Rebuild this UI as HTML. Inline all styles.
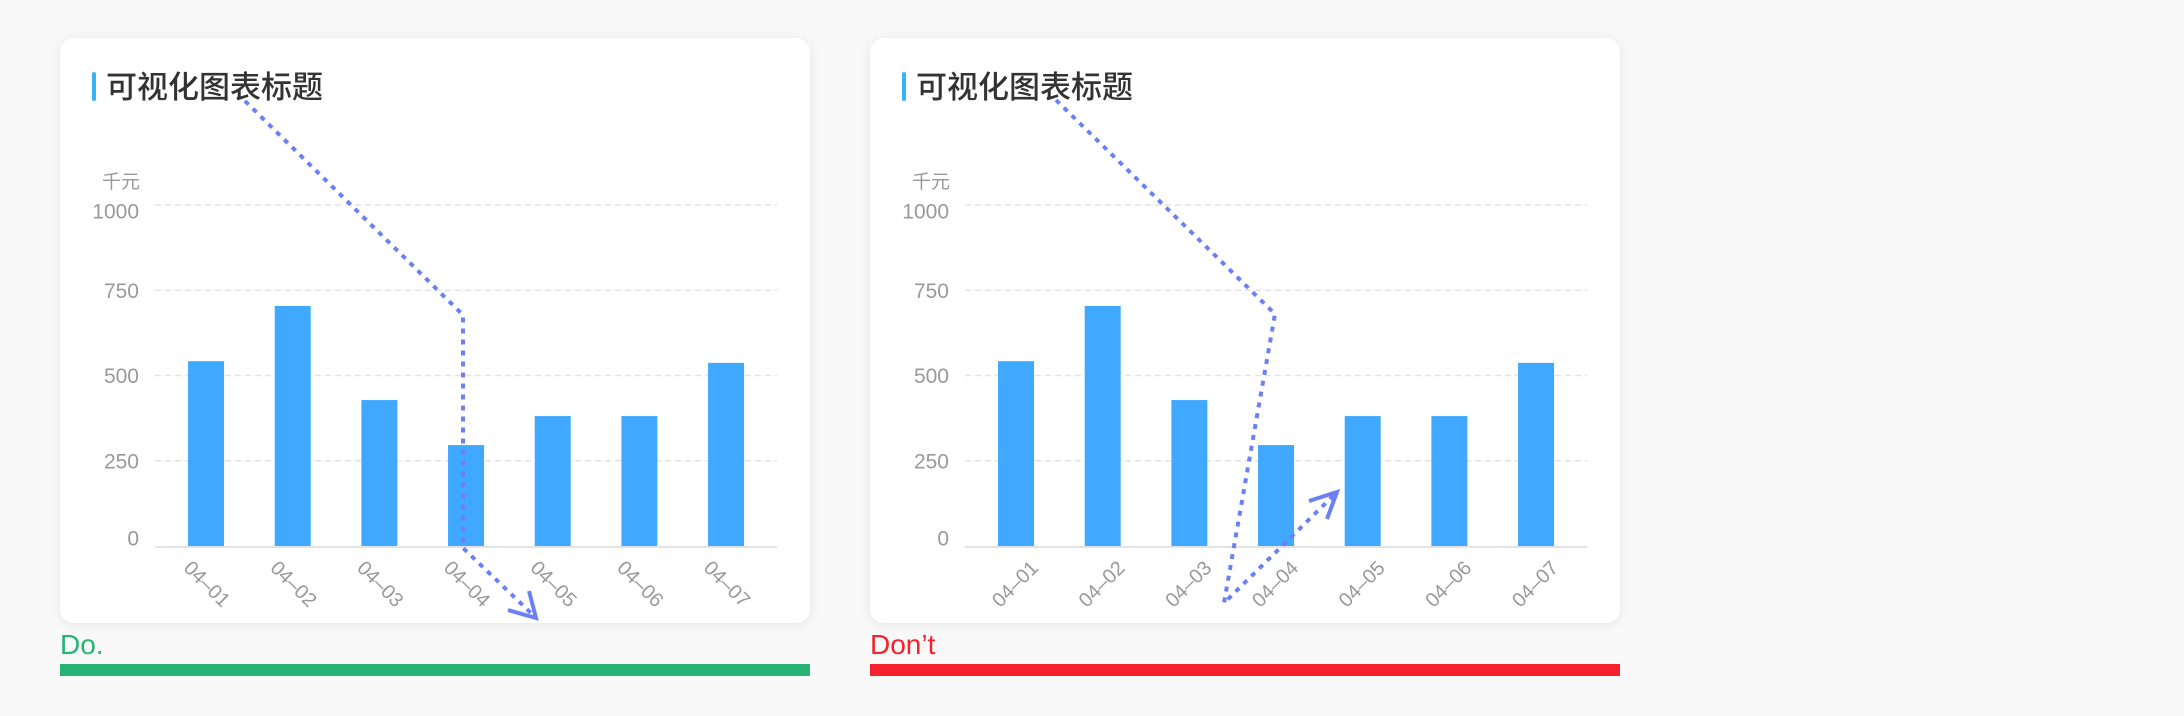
<!DOCTYPE html>
<html><head><meta charset="utf-8">
<style>
html,body{margin:0;padding:0;background:#f9f9f9;width:2184px;height:716px;overflow:hidden;font-family:"Liberation Sans","Noto Sans CJK SC",sans-serif;}
svg{position:absolute;left:0;top:0}
</style></head>
<body>
<svg id="s" width="2184" height="716" viewBox="0 0 2184 716" xmlns="http://www.w3.org/2000/svg">
<defs>
<filter id="sh" x="-10%" y="-10%" width="120%" height="120%"><feDropShadow dx="0" dy="2" stdDeviation="6" flood-color="#000" flood-opacity="0.08"/></filter>
</defs>
</svg>
<script>
const categories=["04-01","04-02","04-03","04-04","04-05","04-06","04-07"];
const values=[542,704,428,296,381,381,537];
const yTicks=[0,250,500,750,1000];
const NS="http://www.w3.org/2000/svg";
const svg=document.getElementById('s');
function mk(tag,attrs,parent){const e=document.createElementNS(NS,tag);for(const k in attrs)e.setAttribute(k,attrs[k]);(parent||svg).appendChild(e);return e;}
function drawPanel(ox,good){
  const g=mk('g',{transform:'translate('+ox+',0)'});
  
  
  const card=mk('rect',{x:60,y:38,width:750,height:585,rx:14,fill:'#fff',filter:'url(#sh)'},g);
  
  
  const tb=mk('rect',{x:92,y:72,width:4,height:29,rx:2,fill:'#36b4f5'},g);
  
  
  const t=mk('text',{x:106,y:98,'font-size':31,'font-weight':500,fill:'#333','font-family':'"Liberation Sans","Noto Sans CJK SC",sans-serif'},g);
  t.textContent='可视化图表标题';
  
  
  const u=mk('text',{x:140,y:188,'font-size':19,fill:'#999','text-anchor':'end','font-family':'"Liberation Sans","Noto Sans CJK SC",sans-serif'},g);
  u.textContent='千元';
  
  
  const y0=546,y1=205,x0=155,x1=777,pL=162.7,band=86.67,bw=36;
  const Y=v=>y0-(v/1000)*(y0-y1);
  const X=i=>pL+band*(i+0.5);
  yTicks.forEach(v=>{
    if(v>0){const l=mk('line',{x1:x0,x2:x1,y1:Y(v),y2:Y(v),stroke:'#e3e3e3','stroke-width':1.5,'stroke-dasharray':'6 4'},g);
      
      }
    const off=v===1000?8:(v===0?-6:2);
    const tx=mk('text',{x:139,y:Y(v)+off,'font-size':21,fill:'#999','text-anchor':'end','dominant-baseline':'middle'},g);
    tx.textContent=String(v);
    
    
  });
  const ax=mk('line',{x1:x0,x2:x1,y1:y0+1,y2:y0+1,stroke:'#e3e3e3','stroke-width':2},g);
  
  
  categories.forEach((c,i)=>{
    const b=mk('rect',{x:X(i)-bw/2,y:Y(values[i]),width:bw,height:y0-Y(values[i]),fill:'#40a9ff'},g);
    
    
    const cx=X(i),cy=585;
    const l=mk('text',{x:cx,y:cy,'font-size':20,fill:'#999','text-anchor':'middle','dominant-baseline':'middle',transform:'rotate('+(good?45:-45)+' '+cx+' '+cy+')'},g);
    l.textContent=c.replace('-','–');
    
    
  });
  const lbl=mk('text',{x:60,y:654,'font-size':28,fill:good?'#27b373':'#f5222d'},g);
  lbl.textContent=good?'Do.':'Don’t';
  
  
  const bar=mk('rect',{x:60,y:664,width:750,height:12,fill:good?'#27b373':'#f5222d'},g);
  
  
}
drawPanel(0,true);
drawPanel(810,false);
function arrow(pts,head,name){
  const p=mk('polyline',{points:pts.map(q=>q.join(',')).join(' '),fill:'none',stroke:'#6b80f7','stroke-width':4,'stroke-dasharray':'5 6'});
  
  
  const h=mk('polyline',{points:head.map(q=>q.join(',')).join(' '),fill:'none',stroke:'#6b80f7','stroke-width':4,'stroke-linejoin':'miter'});
  
  
}
arrow([[245,101],[463,315],[463,548],[533,615]],[[508,610],[536,618],[529,591]],'reading-order-arrow-good');
arrow([[1056,100],[1275,314],[1224,603],[1334,495]],[[1309,501],[1337,492],[1327,519]],'reading-order-arrow-bad');
</script>
</body></html>
